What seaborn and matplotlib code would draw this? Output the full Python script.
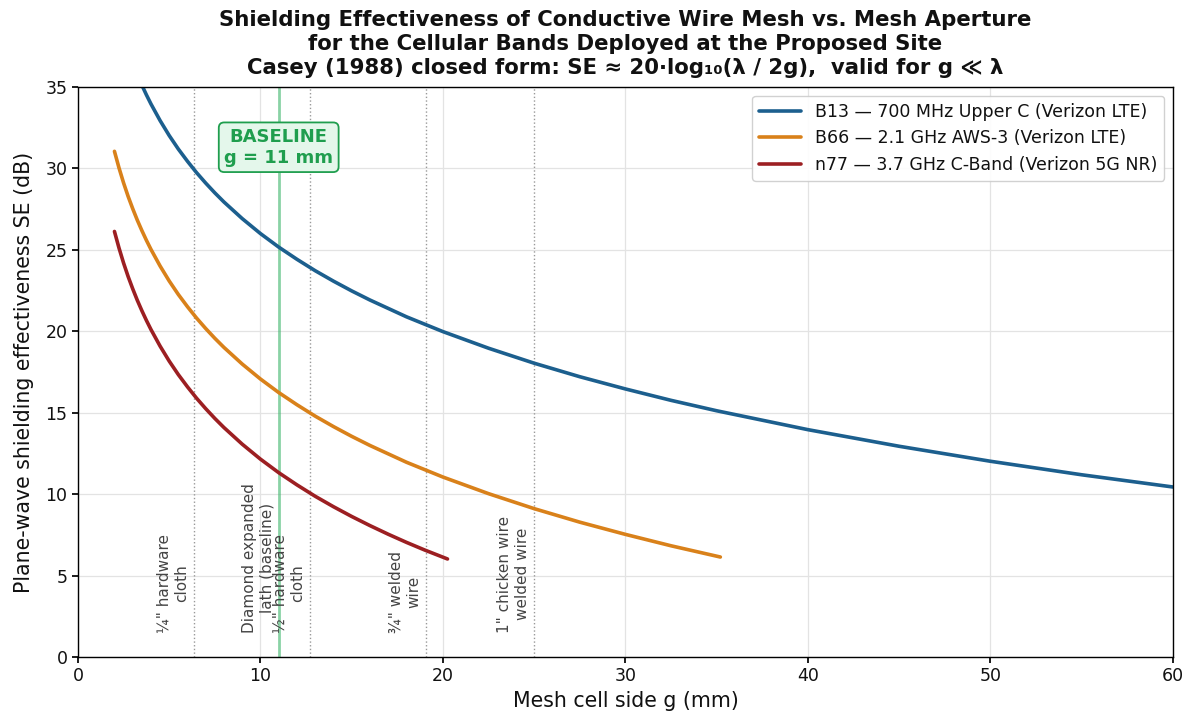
import matplotlib
matplotlib.use("Agg")
import matplotlib.pyplot as plt
import seaborn as sns
import pandas as pd

# ---- data ----
bands = ["B13 — 700 MHz Upper C (Verizon LTE)",
         "B66 — 2.1 GHz AWS-3 (Verizon LTE)",
         "n77 — 3.7 GHz C-Band (Verizon 5G NR)"]

g_b13 = [2, 2.5, 3, 3.25, 3.5, 3.75, 4, 4.5, 5, 5.5, 6, 6.5, 7, 7.5, 8, 9, 10, 11, 12,
         13, 14, 15, 16, 18, 20, 22.5, 25, 27.5, 30, 32.5, 35, 40, 45, 50, 55, 60]
se_b13 = [39.98, 38.04, 36.46, 35.76, 35.12, 34.52, 33.96, 32.94, 32.02, 31.19, 30.44,
          29.74, 29.10, 28.50, 27.94, 26.92, 26.00, 25.17, 24.42, 23.72, 23.08, 22.48,
          21.92, 20.89, 19.98, 18.96, 18.04, 17.21, 16.46, 15.76, 15.12, 13.96, 12.94,
          12.02, 11.19, 10.44]

g_b66 = [2, 2.25, 2.5, 2.75, 3, 3.25, 3.5, 3.75, 4, 4.5, 5, 5.5, 6, 6.5, 7, 7.5, 8, 9,
         10, 11, 12, 13, 14, 15, 16, 18, 20, 22.5, 25, 27.5, 30, 32.5, 35.2]
se_b66 = [31.05, 30.03, 29.11, 28.28, 27.53, 26.83, 26.19, 25.59, 25.03, 24.01, 23.09,
          22.26, 21.51, 20.81, 20.17, 19.57, 19.01, 17.99, 17.07, 16.24, 15.49, 14.79,
          14.15, 13.55, 12.99, 11.96, 11.05, 10.03, 9.11, 8.28, 7.53, 6.83, 6.14]

g_n77 = [2, 2.25, 2.5, 2.75, 3, 3.25, 3.5, 3.75, 4, 4.5, 5, 5.5, 6, 6.5, 7, 7.5, 8, 9,
         10, 11, 12, 13, 14, 15, 16, 17, 18, 19, 20, 20.25]
se_n77 = [26.13, 25.11, 24.19, 23.36, 22.61, 21.91, 21.27, 20.67, 20.11, 19.09, 18.17,
          17.34, 16.59, 15.89, 15.25, 14.65, 14.09, 13.07, 12.15, 11.32, 10.57, 9.87,
          9.23, 8.63, 8.07, 7.54, 7.04, 6.57, 6.13, 6.02]

mesh_g = [6.35, 12.7, 19.05, 25.0]
mesh_labels = ["¼\" hardware\ncloth", "½\" hardware\ncloth",
               "¾\" welded\nwire", "1\" chicken wire\nwelded wire"]
baseline_g = 11
baseline_label = "Diamond expanded\nlath (baseline)"

colors = ["#1c5f8e", "#d9811a", "#9c1f22"]

df = pd.concat([
    pd.DataFrame({"g": g_b13, "SE": se_b13, "band": bands[0]}),
    pd.DataFrame({"g": g_b66, "SE": se_b66, "band": bands[1]}),
    pd.DataFrame({"g": g_n77, "SE": se_n77, "band": bands[2]}),
])

sns.set_theme(style="ticks")
plt.rcParams["font.family"] = ["DejaVu Sans"]
plt.rcParams["text.color"] = "#111111"
plt.rcParams["axes.labelcolor"] = "#111111"
plt.rcParams["xtick.color"] = "#111111"
plt.rcParams["ytick.color"] = "#111111"

fig = plt.figure(figsize=(11.92, 7.19), dpi=100)
ax = fig.add_axes([0.0654, 0.0862, 0.9186, 0.7928])

ax.grid(True, color="#e3e3e3", linewidth=0.9)
ax.set_axisbelow(True)

sns.lineplot(data=df, x="g", y="SE", hue="band", palette=colors, linewidth=2.6,
             ax=ax, sort=False, estimator=None)

for x, lab in zip(mesh_g, mesh_labels):
    ax.axvline(x, color="#999999", linestyle=":", linewidth=1.0, zorder=1)
    ax.text(x - 0.25, 1.5, lab, rotation=90, ha="right", va="bottom",
            fontsize=11, color="#444444", multialignment="center")

ax.axvline(baseline_g, color="#3cb56a", linewidth=2.0, alpha=0.6, zorder=1)
ax.text(baseline_g - 0.25, 1.5, baseline_label, rotation=90, ha="right", va="bottom",
        fontsize=11, color="#444444", multialignment="center")

ax.text(baseline_g, 31.3, "BASELINE\ng = 11 mm", ha="center", va="center",
        fontsize=13, fontweight="bold", color="#1f9e4e",
        bbox=dict(boxstyle="round,pad=0.3", facecolor="#e4f7eb", edgecolor="#1f9e4e",
                  linewidth=1.3))

ax.set_xlim(0, 60)
ax.set_ylim(0, 35)
ax.set_xticks(range(0, 61, 10))
ax.set_yticks(range(0, 36, 5))
ax.tick_params(labelsize=12.5, color="black", length=4)
for s in ax.spines.values():
    s.set_color("black")
    s.set_linewidth(1.0)

ax.set_xlabel("Mesh cell side g (mm)", fontsize=14.8)
ax.set_ylabel("Plane-wave shielding effectiveness SE (dB)", fontsize=14.8, labelpad=8)
ax.set_title("Shielding Effectiveness of Conductive Wire Mesh vs. Mesh Aperture\n"
             "for the Cellular Bands Deployed at the Proposed Site\n"
             "Casey (1988) closed form: SE ≈ 20·log₁₀(λ / 2g),  valid for g ≪ λ",
             fontsize=15.3, fontweight="bold", pad=9, linespacing=1.28)

leg = ax.legend(loc="upper right", fontsize=12.5, handlelength=2.4, frameon=True,
                fancybox=True, framealpha=0.9, edgecolor="#cccccc")
for h in leg.get_lines():
    h.set_linewidth(2.6)

fig.savefig("out.png", dpi=100)
